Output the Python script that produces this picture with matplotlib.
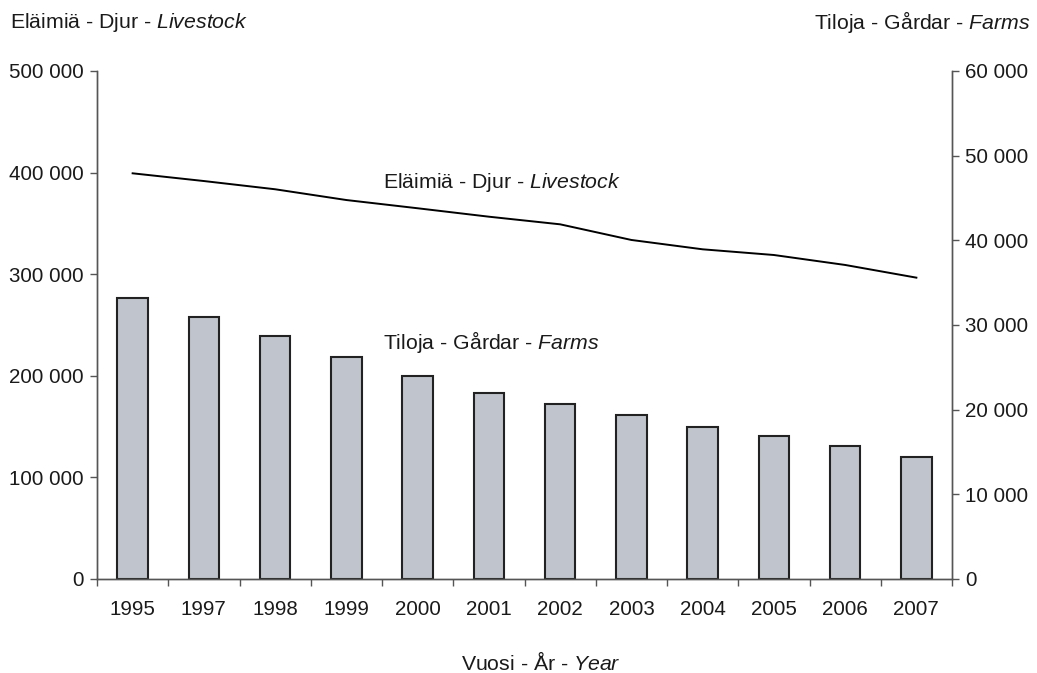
import matplotlib
matplotlib.use("Agg")
import matplotlib.pyplot as plt
from matplotlib.ticker import FuncFormatter, FixedLocator, NullFormatter

plt.rcParams['font.family'] = ['Liberation Sans', 'DejaVu Sans']
plt.rcParams['mathtext.fontset'] = 'custom'
plt.rcParams['mathtext.rm'] = 'Liberation Sans'
plt.rcParams['mathtext.it'] = 'Liberation Sans:italic'

years = ['1995', '1997', '1998', '1999', '2000', '2001', '2002', '2003', '2004', '2005', '2006', '2007']
farms = [33150, 30940, 28700, 26260, 23980, 22000, 20670, 19370, 17990, 16890, 15740, 14450]
livestock = [399300, 391700, 383600, 373000, 364900, 356600, 349100, 333700, 324500, 318900, 309100, 296600]

W, H = 1037, 673
fig = plt.figure(figsize=(W / 100, H / 100), dpi=100)
L, R, B, T = 97, 952, 579, 71
ax = fig.add_axes([L / W, (H - B) / H, (R - L) / W, (B - T) / H])
ax2 = ax.twinx()

fmt = FuncFormatter(lambda v, p: f"{int(round(v)):,}".replace(",", " "))
spine_c = '#555555'
txt_c = '#1a1a1a'
fs = 14.8
tfs = 15.3

x = list(range(len(years)))
ax2.bar(x, farms, width=0.43, color='#c0c4cc', edgecolor='#222222', linewidth=1.5, zorder=2)
ax.plot(x, livestock, color='black', linewidth=1.4, zorder=3)

ax.set_zorder(ax2.get_zorder() + 1)
ax.patch.set_visible(False)

ax.set_xlim(-0.5, len(years) - 0.5)
ax.set_ylim(0, 500000)
ax2.set_ylim(0, 60000)
ax.set_yticks([0, 100000, 200000, 300000, 400000, 500000])
ax2.set_yticks([0, 10000, 20000, 30000, 40000, 50000, 60000])
ax.yaxis.set_major_formatter(fmt)
ax2.yaxis.set_major_formatter(fmt)

ax.xaxis.set_major_locator(FixedLocator([i - 0.5 for i in range(len(years) + 1)]))
ax.xaxis.set_major_formatter(NullFormatter())
ax.xaxis.set_minor_locator(FixedLocator(x))
ax.set_xticklabels(years, minor=True)
ax.tick_params(axis='x', which='major', length=5, direction='out', color=spine_c, width=1)
ax.tick_params(axis='x', which='minor', length=0, pad=15, labelsize=fs, labelcolor=txt_c)
ax.tick_params(axis='y', length=5, direction='out', color=spine_c, width=1, pad=4.5, labelsize=fs, labelcolor=txt_c)
ax2.tick_params(axis='y', length=5, direction='out', color=spine_c, width=1, pad=4.5, labelsize=fs, labelcolor=txt_c)

for a in (ax, ax2):
    a.spines['top'].set_visible(False)
    for s in ('left', 'right', 'bottom'):
        a.spines[s].set_color(spine_c)
        a.spines[s].set_linewidth(1.0)

fig.text(10 / W, 1 - 22 / H, "Eläimiä - Djur - $\\mathit{Livestock}$", fontsize=tfs, color=txt_c, ha='left', va='center')
fig.text(1030 / W, 1 - 22 / H, "Tiloja - Gårdar - $\\mathit{Farms}$", fontsize=tfs, color=txt_c, ha='right', va='center')
fig.text(541 / W, 1 - 663 / H, "Vuosi - År - $\\mathit{Year}$", fontsize=tfs, color=txt_c, ha='center', va='center')
fig.text(383 / W, 1 - 183 / H, "Eläimiä - Djur - $\\mathit{Livestock}$", fontsize=tfs, color=txt_c, ha='left', va='center')
fig.text(383 / W, 1 - 342 / H, "Tiloja - Gårdar - $\\mathit{Farms}$", fontsize=tfs, color=txt_c, ha='left', va='center')

fig.savefig("out.png", dpi=100)
